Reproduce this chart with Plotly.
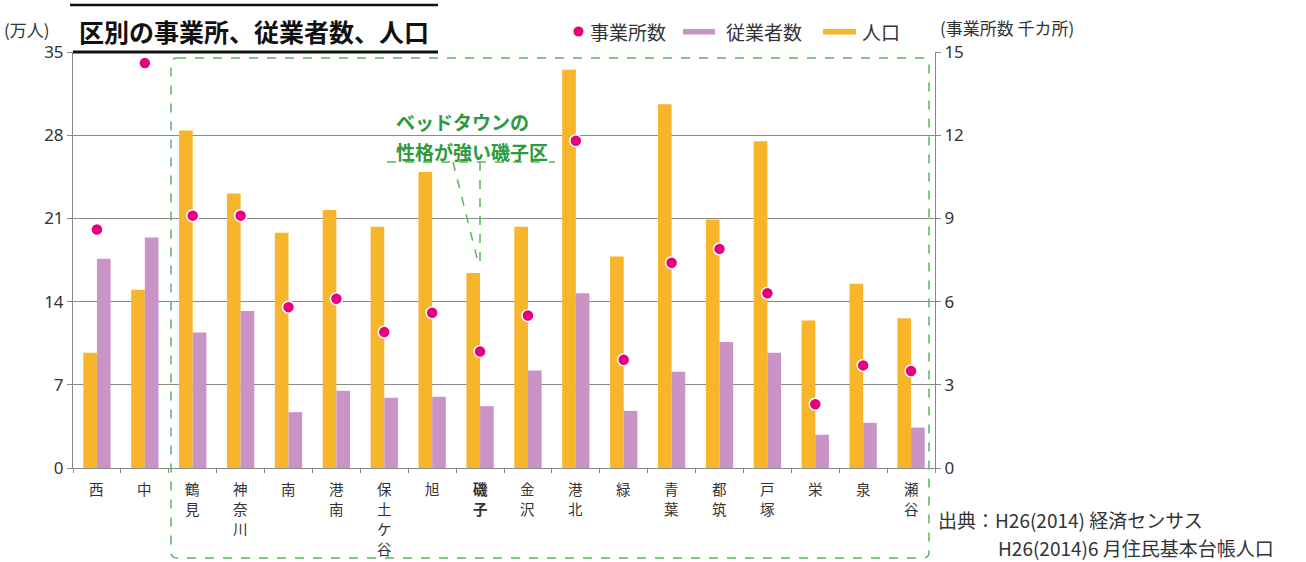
import plotly.graph_objects as go

wards = ["西", "中", "鶴見", "神奈川", "南", "港南", "保土ケ谷", "旭", "磯子",
         "金沢", "港北", "緑", "青葉", "都筑", "戸塚", "栄", "泉", "瀬谷"]
population = [9.7, 15.0, 28.4, 23.1, 19.8, 21.7, 20.3, 24.9, 16.4,
              20.3, 33.5, 17.8, 30.6, 20.9, 27.5, 12.4, 15.5, 12.6]      # 万人
employees = [17.6, 19.4, 11.4, 13.2, 4.7, 6.5, 5.9, 6.0, 5.2,
             8.2, 14.7, 4.8, 8.1, 10.6, 9.7, 2.8, 3.8, 3.4]             # 万人
establishments = [8.6, 14.6, 9.1, 9.1, 5.8, 6.1, 4.9, 5.6, 4.2,
                  5.5, 11.8, 3.9, 7.4, 7.9, 6.3, 2.3, 3.7, 3.5]          # 千カ所
left_ticks = [0, 7, 14, 21, 28, 35]
right_ticks = [0, 3, 6, 9, 12, 15]

FONT = "Noto Sans CJK JP"
NUMFONT = "Noto Sans"
ORANGE = "#F7B52C"
PURPLE = "#CA93C6"
MAGENTA = "#E4007F"
GREEN = "#2E9A3E"
GREEN_L = "#5DB55A"

# plot area in pixels
L, R, T, B = 73, 935, 52, 468
W, H = 1306, 562


def px(x):
    return (x - L) / (R - L)


def py(y):
    return (B - y) / (B - T)


fig = go.Figure()
fig.add_trace(go.Bar(x=wards, y=population, name="人口", marker_color=ORANGE,
                     marker_line_width=0, yaxis="y", showlegend=False))
fig.add_trace(go.Bar(x=wards, y=employees, name="従業者数", marker_color=PURPLE,
                     marker_line_width=0, yaxis="y", showlegend=False))
fig.add_trace(go.Scatter(x=wards, y=establishments, name="事業所数", mode="markers",
                         marker=dict(color=MAGENTA, size=12, line=dict(color="white", width=1.5)),
                         yaxis="y2", showlegend=False))

fig.update_layout(
    width=W, height=H,
    margin=dict(l=L, r=W - R, t=T, b=H - B, autoexpand=False),
    paper_bgcolor="white", plot_bgcolor="white",
    font=dict(family=FONT, color="#333", size=17),
    barmode="group", bargap=0.43, bargroupgap=0,
    showlegend=False,
    xaxis=dict(type="category", tickmode="array", tickvals=wards, ticktext=[""] * len(wards),
               tickson="boundaries", ticks="outside", ticklen=4, tickcolor="#888",
               showline=True, linecolor="#888", linewidth=1, showgrid=False,
               automargin=False, range=[-0.5, len(wards) - 0.5]),
    yaxis=dict(range=[0, 35], tickvals=left_ticks, ticks="outside", ticklen=5,
               tickcolor="#888", showline=True, linecolor="#888", linewidth=1,
               showgrid=True, gridcolor="#8a8a8a", gridwidth=1, zeroline=False,
               automargin=False, tickfont=dict(size=17, color="#333", family=NUMFONT)),
    yaxis2=dict(range=[0, 15], tickvals=right_ticks, overlaying="y", side="right",
                ticks="outside", ticklen=5, tickcolor="#888", showline=True,
                linecolor="#888", linewidth=1, showgrid=False, zeroline=False,
                automargin=False, tickfont=dict(size=17, color="#333", family=NUMFONT)),
)

shapes = []
# title rules
shapes.append(dict(type="line", xref="paper", yref="paper", x0=px(70), x1=px(438),
                   y0=py(5), y1=py(5), line=dict(color="#111", width=2.5)))
shapes.append(dict(type="line", xref="paper", yref="paper", x0=px(73), x1=px(438),
                   y0=py(52), y1=py(52), line=dict(color="#111", width=3)))

# dashed rounded box
x0b, x1b, y0b, y1b, r = 171, 929, 58, 558, 6
path = (f"M {px(x0b + r)},{py(y0b)} L {px(x1b - r)},{py(y0b)} "
        f"Q {px(x1b)},{py(y0b)} {px(x1b)},{py(y0b + r)} "
        f"L {px(x1b)},{py(y1b - r)} Q {px(x1b)},{py(y1b)} {px(x1b - r)},{py(y1b)} "
        f"L {px(x0b + r)},{py(y1b)} Q {px(x0b)},{py(y1b)} {px(x0b)},{py(y1b - r)} "
        f"L {px(x0b)},{py(y0b + r)} Q {px(x0b)},{py(y0b)} {px(x0b + r)},{py(y0b)} Z")
shapes.append(dict(type="path", xref="paper", yref="paper", path=path,
                   line=dict(color=GREEN_L, width=1.5, dash="dash"), layer="above"))

# callout lines
for (xa, ya, xb, yb) in [(387, 162, 555, 162), (453, 162, 478, 262), (480, 162, 480, 262)]:
    shapes.append(dict(type="line", xref="paper", yref="paper", x0=px(xa), y0=py(ya),
                       x1=px(xb), y1=py(yb), line=dict(color=GREEN_L, width=1.5, dash="dash")))

# manual legend symbols
shapes.append(dict(type="circle", xref="paper", yref="paper", x0=px(573), x1=px(584),
                   y0=py(37), y1=py(26), fillcolor=MAGENTA, line=dict(color="white", width=1)))
shapes.append(dict(type="rect", xref="paper", yref="paper", x0=px(683), x1=px(715),
                   y0=py(34.5), y1=py(29), fillcolor=PURPLE, line=dict(width=0)))
shapes.append(dict(type="rect", xref="paper", yref="paper", x0=px(823), x1=px(856),
                   y0=py(34.5), y1=py(29), fillcolor=ORANGE, line=dict(width=0)))
fig.update_layout(shapes=shapes)

ann = []


def text(x, y, s, size=17, color="#333", xanchor="left", bold=False, xref="paper"):
    ann.append(dict(xref=xref, yref="paper", x=px(x) if xref == "paper" else x, y=py(y),
                    text=f"<b>{s}</b>" if bold else s,
                    showarrow=False, xanchor=xanchor, yanchor="middle",
                    font=dict(size=size, color=color, family=FONT)))


# x-axis labels, stacked vertically one character per row
for w in wards:
    for i, ch in enumerate(w):
        text(w, 488 + 20.3 * i, ch, size=14.5, color="#333", xanchor="center",
             bold=(w == "磯子"), xref="x")

text(77, 31, "区別の事業所、従業者数、人口", size=25, color="#111", bold=True)
text(2, 30, "(万人)", size=17)
text(588, 31, "事業所数", size=19)
text(724, 31, "従業者数", size=19)
text(860, 31, "人口", size=19)
text(938, 28, "(事業所数 千カ所)", size=17)
text(394, 122, "ベッドタウンの", size=19, color=GREEN, bold=True)
text(394, 151, "性格が強い磯子区", size=19, color=GREEN, bold=True)
text(936, 519.5, "出典：H26(2014) 経済センサス", size=19)
text(996, 547, "H26(2014)6 月住民基本台帳人口", size=19)
fig.update_layout(annotations=ann)

fig.write_html("out.html", config={"displayModeBar": False},
               post_script="document.body.style.margin='0';")
